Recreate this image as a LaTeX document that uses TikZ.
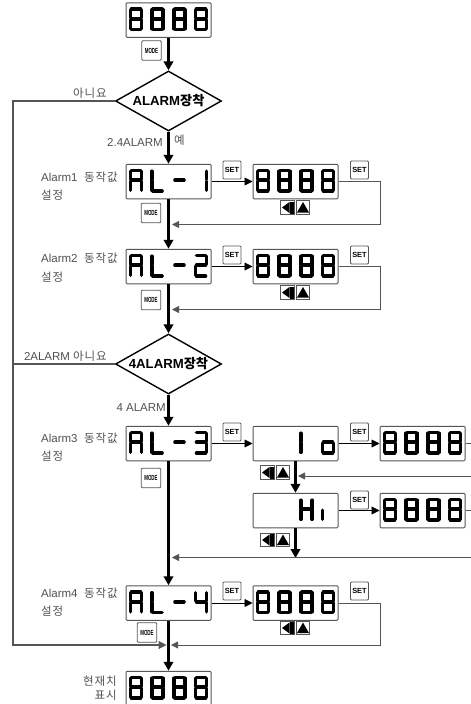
\documentclass[tikz,border=0pt]{standalone}
\usepackage{fontspec}
\setmainfont{Liberation Sans}
\newfontfamily\kr[LetterSpace=8]{Noto Sans CJK KR}
\newfontfamily\krb{Noto Sans CJK KR Bold}
\usetikzlibrary{shapes.geometric,arrows.meta}
\definecolor{ln}{HTML}{555555}
\definecolor{tx}{HTML}{505050}
\tikzset{
 x=1pt,y=-1pt,
 dispbox/.style={draw=ln,line width=1pt,rounded corners=1pt,minimum width=85pt,minimum height=34.5pt,inner sep=0pt,fill=white},
 btn/.style={draw=ln,line width=0.8pt,rounded corners=1pt,inner sep=0pt,fill=white,font=\fontsize{7.4}{8}\selectfont\bfseries,text=black},
 setbtn/.style={btn,minimum width=18pt,minimum height=18pt},
 modebtn/.style={btn,minimum width=19.5pt,minimum height=19.5pt},
 trbtn/.style={draw=ln,line width=0.8pt,minimum width=13.5pt,minimum height=13.5pt,inner sep=0pt,fill=white},
 decis/.style={diamond,aspect=1.77,draw=black,line width=1.4pt,minimum width=106pt,minimum height=60pt,inner sep=0pt,fill=white,font=\fontsize{13.2}{15}\selectfont\bfseries},
 lbl/.style={inner sep=0pt,text=tx,font=\fontsize{11.5}{13}\selectfont},
 thickarrow/.style={line width=2.4pt,-{Triangle[length=9pt,width=9.5pt]},black},
 thinarrow/.style={line width=0.9pt,ln,-{Triangle[length=7pt,width=7pt]}},
 thinline/.style={line width=0.9pt,ln},
 blackarrow/.style={line width=0.9pt,black,-{Triangle[length=8pt,width=8pt]}},
 seg/.style={line width=3.6pt,line cap=round,black},
}
\newcommand{\sega}{\draw[seg] (2.5,1.6)--(11.5,1.6);}
\newcommand{\segb}{\draw[seg] (12.6,2.5)--(12.6,10.5);}
\newcommand{\segc}{\draw[seg] (12.6,12.5)--(12.6,21.5);}
\newcommand{\segd}{\draw[seg] (2.5,22.4)--(11.5,22.4);}
\newcommand{\sege}{\draw[seg] (1.4,12.5)--(1.4,21.5);}
\newcommand{\segf}{\draw[seg] (1.4,2.5)--(1.4,10.5);}
\newcommand{\segg}{\draw[seg] (2.5,11.5)--(11.5,11.5);}
\newcommand{\sevendig}[3]{\begin{scope}[shift={(#1,#2)}]\foreach \q in {#3}{\csname seg\q\endcsname}\end{scope}}
\newcommand{\dispseg}[5]{\begin{scope}[shift={(#1.north west)}]
 \sevendig{3.5}{5}{#2}\sevendig{25}{5}{#3}\sevendig{47}{5}{#4}\sevendig{68.5}{5}{#5}\end{scope}}
\newcommand{\dispeight}[1]{\dispseg{#1}{a,b,c,d,e,f,g}{a,b,c,d,e,f,g}{a,b,c,d,e,f,g}{a,b,c,d,e,f,g}}
\newcommand{\alltr}[3]{%
 \node[trbtn] (#1l) at (#2,#3) {};
 \node[trbtn] (#1u) at (#2+15.5,#3) {};
 \fill[black] ([xshift=-5.5pt]#1l.center) -- ([xshift=2pt,yshift=-5.5pt]#1l.center) -- ([xshift=2pt,yshift=5.5pt]#1l.center) -- cycle;
 \fill[black] ([xshift=2pt,yshift=-6pt]#1l.center) rectangle ([xshift=6pt,yshift=6pt]#1l.center);
 \fill[black] ([yshift=5.5pt]#1u.center) -- ([xshift=6pt,yshift=-5pt]#1u.center) -- ([xshift=-6pt,yshift=-5pt]#1u.center) -- cycle;
}
\begin{document}
\begin{tikzpicture}
\useasboundingbox (0,0) rectangle (471,704);
\clip (0,0) rectangle (471,704);
% nodes
\node[dispbox] (top) at (168.5,20) {};
\node[modebtn] (m0) at (151.5,50.5) {\scalebox{.6}[1]{MODE}};
\node[decis] (d1) at (168.5,101) {ALARM{\krb 장착}};
\node[dispbox] (al1) at (168.5,181.5) {};
\node[modebtn] (m1) at (151,213) {\scalebox{.6}[1]{MODE}};
\node[setbtn] (s1a) at (232,170) {SET};
\node[dispbox] (v1) at (295.5,181.5) {};
\node[setbtn] (s1b) at (359.5,170) {SET};
\alltr{t1}{287.5}{207.5}
\node[dispbox] (al2) at (168.5,266.5) {};
\node[modebtn] (m2) at (151,300) {\scalebox{.6}[1]{MODE}};
\node[setbtn] (s2a) at (232,255) {SET};
\node[dispbox] (v2) at (295.5,266.5) {};
\node[setbtn] (s2b) at (359.5,255) {SET};
\alltr{t2}{287.5}{292.5}
\node[decis] (d2) at (168.5,364) {4ALARM{\krb 장착}};
\node[dispbox] (al3) at (168.5,443.5) {};
\node[modebtn] (m3) at (151,478) {\scalebox{.6}[1]{MODE}};
\node[setbtn] (s3a) at (232,432) {SET};
\node[dispbox] (lo) at (295.5,443.5) {};
\node[setbtn] (s3b) at (359.5,432) {SET};
\node[dispbox] (v3) at (422.5,443.5) {};
\alltr{t3}{267.5}{472.5}
\node[dispbox] (hi) at (295.5,510.5) {};
\node[setbtn] (s4) at (359.5,500) {SET};
\node[dispbox] (v4) at (422.5,510.5) {};
\alltr{t4}{267.5}{540}
\node[dispbox] (al4) at (168.5,603) {};
\node[modebtn] (m4) at (147,632.5) {\scalebox{.6}[1]{MODE}};
\node[setbtn] (s5a) at (232,591) {SET};
\node[dispbox] (v5) at (295.5,603) {};
\node[setbtn] (s5b) at (359.5,591) {SET};
\alltr{t5}{287.5}{628}
\node[dispbox] (bot) at (168.5,688.5) {};
% segments
\dispeight{top}
\dispeight{v1}
\dispeight{v2}
\dispeight{v3}
\dispeight{v4}
\dispeight{v5}
\dispeight{bot}
\dispseg{al1}{a,b,c,e,f,g}{d,e,f}{g}{b,c}
\dispseg{al2}{a,b,c,e,f,g}{d,e,f}{g}{a,b,g,e,d}
\dispseg{al3}{a,b,c,e,f,g}{d,e,f}{g}{a,b,g,c,d}
\dispseg{al4}{a,b,c,e,f,g}{d,e,f}{g}{f,g,b,c}
\dispseg{lo}{}{}{e,f}{g,c,d,e}
\dispseg{hi}{}{}{f,e,g,b,c}{e}
% free coordinates
\coordinate (c1) at (380,224.5); \coordinate (f1) at (172,224.5);
\coordinate (c2) at (380,309.5); \coordinate (f2) at (172,309.5);
\coordinate (c3) at (471,476); \coordinate (f3) at (298,476);
\coordinate (e3) at (471,443.5); \coordinate (e4) at (471,510.5);
\coordinate (c4) at (471,557.5); \coordinate (f4) at (172,557.5);
\coordinate (c5) at (380,645); \coordinate (f5) at (171,645);
\coordinate (lft) at (13,645); \coordinate (f6) at (166.5,645);
\coordinate (mid) at (295.5,558);
% main flow
\draw[thickarrow] (top.south) -- (d1.north);
\draw[thickarrow] (d1.south) -- (al1.north);
\draw[thickarrow] (al1.south) -- (al2.north);
\draw[thickarrow] (al2.south) -- (d2.north);
\draw[thickarrow] (d2.south) -- (al3.north);
\draw[thickarrow] (al3.south) -- (al4.north);
\draw[thickarrow] (al4.south) -- (bot.north);
\draw[thickarrow] (lo.south) -- (hi.north);
\draw[thickarrow] (hi.south) -- (mid);
% set arrows
\foreach \a/\b in {al1/v1,al2/v2,al3/lo,lo/v3,hi/v4,al4/v5}{
 \draw[blackarrow] (\a.east) -- (\b.west);
}
% returns
\draw[thinarrow] (v1.east) -| (c1) -- (f1);
\draw[thinarrow] (v2.east) -| (c2) -- (f2);
\draw[thinline] (v3.east) -- (e3);
\draw[thinline] (v4.east) -- (e4);
\draw[thinarrow] (c3) -- (f3);
\draw[thinarrow] (c4) -- (f4);
\draw[thinarrow] (v5.east) -| (c5) -- (f5);
\draw[line width=1.1pt,ln,-{Triangle[length=8pt,width=8pt]}] (d1.west) -| (lft) -- (f6);
\draw[line width=1.1pt,ln] (d2.west) -- (d2.west -| lft);
% labels
\node[lbl,anchor=east] (n1) at (107,93) {\kr 아니요};
\node[lbl,anchor=east] (n2) at (163,142) {2.4ALARM};
\node[lbl,anchor=west] (n3) at (174,140.5) {\kr 예};
\node[lbl,anchor=west] (a1) at (41,177) {Alarm1\ \ {\kr 동작값}};
\node[lbl,anchor=west] (a1b) at (41,195) {\kr 설정};
\node[lbl,anchor=west] (a2) at (41,258) {Alarm2\ \ {\kr 동작값}};
\node[lbl,anchor=west] (a2b) at (41,277) {\kr 설정};
\node[lbl,anchor=east] (n4) at (107,356) {2ALARM\ {\kr 아니요}};
\node[lbl,anchor=east] (n5) at (166,408) {4 ALARM};
\node[lbl,anchor=west] (a3) at (41,438) {Alarm3\ \ {\kr 동작값}};
\node[lbl,anchor=west] (a3b) at (41,456) {\kr 설정};
\node[lbl,anchor=west] (a4) at (41,593) {Alarm4\ \ {\kr 동작값}};
\node[lbl,anchor=west] (a4b) at (41,611) {\kr 설정};
\node[lbl,anchor=east] (r1) at (117,681) {\kr 현재치};
\node[lbl,anchor=east] (r2) at (117,695) {\kr 표시};
\end{tikzpicture}
\end{document}
